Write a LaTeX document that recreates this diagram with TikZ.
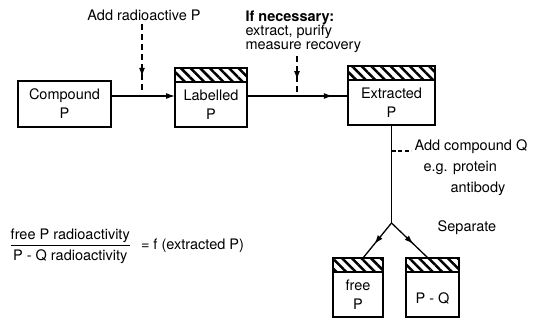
\documentclass[tikz,border=0pt]{standalone}
\usepackage{amsmath}
\usepackage{fontspec}
\setmainfont{TeX Gyre Heros}
\usetikzlibrary{arrows.meta, positioning, patterns.meta, decorations.markings}

\begin{document}
\begin{tikzpicture}[
    x=1pt, y=-1pt,
    font=\fontsize{14.5}{19}\selectfont,
    box/.style = {rectangle, draw, line width=1.4pt, outer sep=0pt, inner sep=0pt, align=center, minimum height=45pt},
    hatch/.style = {rectangle, draw, line width=1.4pt, outer sep=0pt, inner sep=0pt, minimum height=14pt, pattern={Lines[angle=-45, distance=6.8pt, line width=2.5pt]}},
    flow/.style = {line width=1.3pt},
    inject/.style = {flow, dash pattern=on 6pt off 4pt},
    midarrow/.style = {postaction={decorate}, decoration={markings, mark=at position #1 with {\arrow{Latex[length=9pt, width=6pt]}}}}
]
\useasboundingbox (0,0) rectangle (539,320);

% Boxes along the main line
\node[box, minimum width=93pt, minimum height=46pt] (comp) at (64.5,104) {Compound\\P};
\node[box, minimum width=72pt] (lab) at (211,104.5) {Labelled\\P};
\node[hatch, minimum width=72pt, above=0pt of lab] (labh) {};
\node[box, minimum width=87pt] (ext) at (391.5,102.5) {Extracted\\P};
\node[hatch, minimum width=87pt, above=0pt of ext] (exth) {};

% Boxes after separation
\node[box, minimum width=50pt] (free) at (358,294.5) {free\\P};
\node[hatch, minimum width=50pt, above=0pt of free] (freeh) {};
\node[box, minimum width=53pt] (pq) at (432.5,294.5) {\mbox{}\\P - Q};
\node[hatch, minimum width=53pt, above=0pt of pq] (pqh) {};

% Labels
\node (addp) at (144,15) {Add radioactive P};
\node[align=left, anchor=north west, font=\fontsize{14.5}{13.5}\selectfont] (need) at (242,7) {\textbf{If necessary:}\\extract, purify\\measure recovery};
\node[anchor=west] (addq) at (411,147) {Add compound Q};
\node[anchor=west] (eg) at (420,168) {e.g. protein};
\node[anchor=west] (ab) at (447,189) {antibody};
\node (sep) at (467,228) {Separate};

% Main line
\draw[flow, -{Latex[length=9pt, width=6pt]}] ([yshift=8pt]comp.east) -- ([yshift=8.5pt]lab.west);
\draw[flow, midarrow=0.85] ([yshift=8.5pt]lab.east) -- ([yshift=6.5pt]ext.west);

% Additions
\coordinate (inj) at (142,90);
\coordinate (rec) at (297,96);
\draw[inject, midarrow=0.8] (addp.south -| inj) -- (inj);
\draw[inject, midarrow=0.6] (need.south -| rec) -- (rec);

% Separation
\coordinate (split) at (391.5,223);
\draw[flow] (ext.south) -- (split);
\draw[line width=1.1pt, dash pattern=on 4pt off 2.5pt] ([yshift=-4pt]addq.west -| ext.south) -- ([yshift=-4pt]addq.west);
\draw[flow, midarrow=0.6] (split) -- ([xshift=-20pt]freeh.north east);
\draw[flow, midarrow=0.6] (split) -- ([xshift=22pt]pqh.north west);

% Ratio
\node[anchor=west] (ratio) at (6,246) {$\genfrac{}{}{1pt}{0}{\mbox{free P radioactivity}}{\mbox{P - Q radioactivity}}$\hspace{6pt} = f (extracted P)};

\end{tikzpicture}
\end{document}
